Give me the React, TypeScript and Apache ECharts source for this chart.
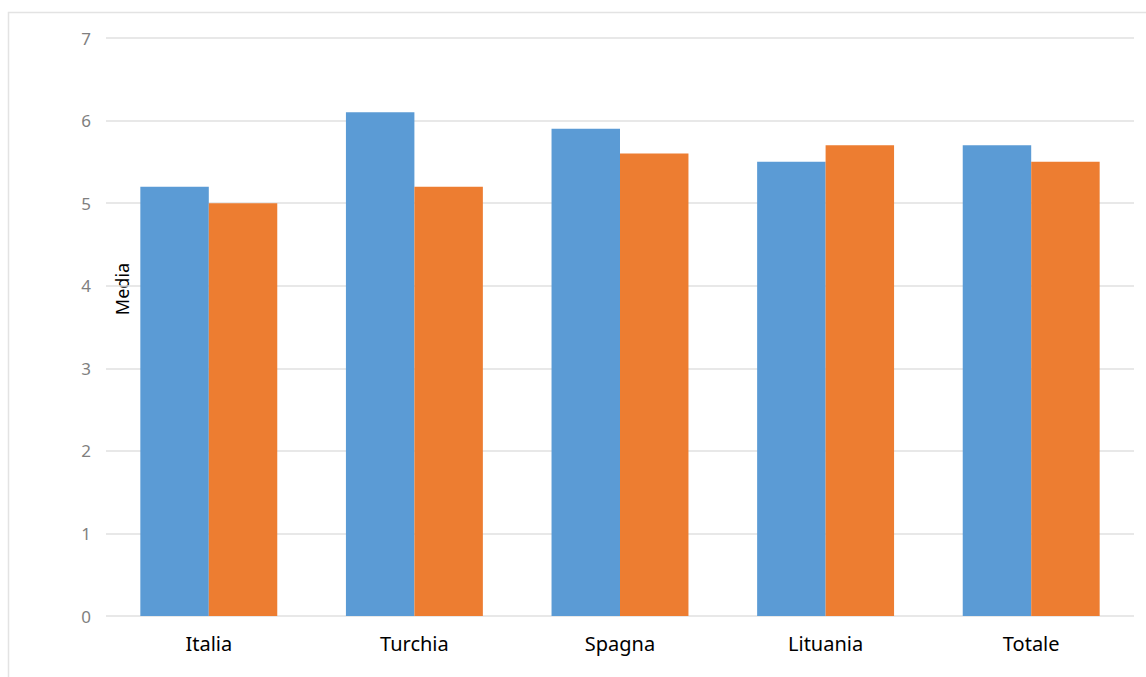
import React, { useEffect, useRef } from "react";
import * as echarts from "echarts";

const categories = ["Italia", "Turchia", "Spagna", "Lituania", "Totale"];
const seriesA = [5.2, 6.1, 5.9, 5.5, 5.7];
const seriesB = [5.0, 5.2, 5.6, 5.7, 5.5];
const yTicks = [0, 1, 2, 3, 4, 5, 6, 7];

export default function App() {
  const ref = useRef<HTMLDivElement>(null);
  useEffect(() => {
    if (!ref.current) return;
    const chart = echarts.init(ref.current, null, { renderer: "svg" });
    chart.setOption({
      animation: false,
      backgroundColor: "#ffffff",
      grid: { left: 106, right: 12, top: 38, bottom: 61, containLabel: false },
      graphic: [
        {
          type: "polyline",
          shape: { points: [[8.5, 700], [8.5, 12.5], [1160, 12.5]] },
          style: { stroke: "#e3e3e3", lineWidth: 1.5, fill: null },
          silent: true,
        },
        {
          type: "text",
          x: 122,
          y: 289,
          rotation: Math.PI / 2,
          style: {
            text: "Media",
            fill: "#000000",
            font: '18px "Noto Sans", sans-serif',
            align: "center",
            verticalAlign: "middle",
          },
        },
      ],
      xAxis: {
        type: "category",
        data: categories,
        axisLine: { show: false },
        axisTick: { show: false },
        axisLabel: {
          color: "#000000",
          fontSize: 20,
          fontFamily: "Noto Sans",
          margin: 17,
        },
      },
      yAxis: {
        type: "value",
        min: yTicks[0],
        max: yTicks[yTicks.length - 1],
        interval: 1,
        axisLine: { show: false },
        axisTick: { show: false },
        axisLabel: {
          color: "#7f7f7f",
          fontSize: 17,
          fontFamily: "Noto Sans",
          margin: 15,
        },
        splitLine: { lineStyle: { color: "#e0e0e0", width: 1.5 } },
      },
      series: [
        {
          type: "bar",
          data: seriesA,
          barWidth: "33.3%",
          barGap: "0%",
          itemStyle: { color: "#5B9BD5" },
        },
        {
          type: "bar",
          data: seriesB,
          barWidth: "33.3%",
          barGap: "0%",
          itemStyle: { color: "#ED7D31" },
        },
      ],
    });
    return () => chart.dispose();
  }, []);
  return (
    <div
      ref={ref}
      style={{ position: "fixed", left: 0, top: 0, width: 1146, height: 677 }}
    />
  );
}
